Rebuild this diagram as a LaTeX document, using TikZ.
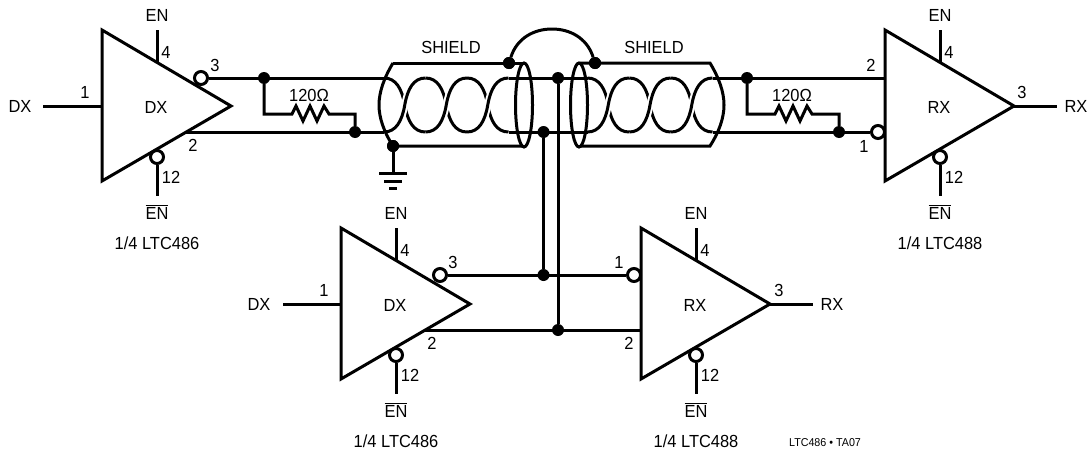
\documentclass[tikz,border=0pt]{standalone}
\usepackage{fontspec}
\setmainfont[FakeStretch=0.94]{Liberation Sans}
\tikzset{
  wire/.style={line width=3pt},
  bubble/.style={circle,draw,fill=white,line width=3pt,minimum size=13pt,inner sep=0pt},
  dot/.style={circle,fill=black,minimum size=12pt,inner sep=0pt},
  every node/.style={inner sep=0pt,font=\fontsize{17.5}{19}\selectfont}
}
\newcommand{\gatebody}[5]{
  \begin{scope}[shift={(#2,#3)}]
    \coordinate (#1-nw) at (102,30);
    \coordinate (#1-sw) at (102,181);
    \coordinate (#1-tip) at (231,106);
    \coordinate (#1-ena) at (157,30);
    \coordinate (#1-enb) at (157,62);
    \coordinate (#1-enc) at (157,196);
    \draw [wire] (#1-nw) -- (#1-tip) -- (#1-sw) -- cycle;
    \draw [wire] (#1-ena) -- (#1-enb);
    \node [bubble] (#1-enbar) at (157,157) {};
    \draw [wire] (#1-enbar) -- (#1-enc);
    \node at (156,107) { #4 };
    \node at (157,15) { EN };
    \node at (166,52) { 4 };
    \node at (171,177) { 12 };
    \node at (157,212) { $\overline{\hbox{EN}}$ };
    \node at (157,243) { #5 };
  \end{scope}
}

\begin{document}
\begin{tikzpicture}[x=1pt,y=-1pt]
  \useasboundingbox (0,0) rectangle (1091,450);

  \gatebody{dxa}{0}{0}{DX}{1/4 LTC486}
  \gatebody{dxb}{239}{198}{DX}{1/4 LTC486}
  \gatebody{rxa}{783}{0}{RX}{1/4 LTC488}
  \gatebody{rxb}{539}{198}{RX}{1/4 LTC488}

  % twisted pair, falling strands first
  \foreach \xa in {384,425.5,467,587.5,629.25,671} {
    \draw [wire] (\xa,78) .. controls ({\xa+12},78) and ({\xa+18},89) .. ({\xa+20.75},105)
      .. controls ({\xa+23.5},121) and ({\xa+29.5},132) .. ({\xa+41.5},132);
  }
  \foreach \xa in {384,425.5,467,587.5,629.25,671} {
    \begin{scope}
      \clip ({\xa+13.75},94) rectangle ({\xa+27.75},116);
      \draw [white,line width=7pt] (\xa,132) .. controls ({\xa+12},132) and ({\xa+18},121) .. ({\xa+20.75},105)
        .. controls ({\xa+23.5},89) and ({\xa+29.5},78) .. ({\xa+41.5},78);
    \end{scope}
    \draw [wire] (\xa,132) .. controls ({\xa+12},132) and ({\xa+18},121) .. ({\xa+20.75},105)
      .. controls ({\xa+23.5},89) and ({\xa+29.5},78) .. ({\xa+41.5},78);
  }

  % junctions
  \node [dot] (ja) at (264,78) {};
  \node [dot] (jb) at (355,132) {};
  \node [dot] (jc) at (393,146) {};
  \node [dot] (jd) at (509,63) {};
  \node [dot] (je) at (595,63) {};
  \node [dot] (jf) at (558,78) {};
  \node [dot] (jg) at (543.5,132) {};
  \node [dot] (jh) at (747,78) {};
  \node [dot] (ji) at (839,132) {};
  \node [dot] (jj) at (543.5,275) {};
  \node [dot] (jk) at (558,330) {};

  % pins of the upper left driver
  \coordinate (dxain) at (43,106);
  \coordinate (dxaleft) at (102,106);
  \node [bubble] (dxaout) at (201,78) {};
  \coordinate (dxaneg) at (185,132);
  \draw [wire] (dxain) -- (dxaleft);
  \node at (20,106) { DX };
  \node at (85,92) { 1 };
  \node at (215,65) { 3 };
  \node at (193,145) { 2 };

  % pins of the lower left driver
  \coordinate (dxbin) at (283,304);
  \coordinate (dxbleft) at (341,304);
  \node [bubble] (dxbout) at (440,275) {};
  \coordinate (dxbneg) at (424,330);
  \draw [wire] (dxbin) -- (dxbleft);
  \node at (259,304) { DX };
  \node at (324,290) { 1 };
  \node at (453,262) { 3 };
  \node at (432,343) { 2 };

  % pins of the upper right receiver
  \coordinate (rxapos) at (885,78);
  \node [bubble] (rxaneg) at (878,132) {};
  \coordinate (rxaright) at (1014,106);
  \coordinate (rxaout) at (1057,106);
  \draw [wire] (rxaright) -- (rxaout);
  \node at (1076,106) { RX };
  \node at (1022,92) { 3 };
  \node at (871,65) { 2 };
  \node at (864,146) { 1 };

  % pins of the lower right receiver
  \node [bubble] (rxbneg) at (634,275) {};
  \coordinate (rxbpos) at (641,330);
  \coordinate (rxbright) at (770,304);
  \coordinate (rxbout) at (813,304);
  \draw [wire] (rxbright) -- (rxbout);
  \node at (832,304) { RX };
  \node at (779,290) { 3 };
  \node at (619,262) { 1 };
  \node at (629,343) { 2 };

  % straight parts of the pair
  \draw [wire] (dxaout) -- (384,78);
  \draw [wire] (dxaneg) -- (384,132);
  \draw [wire] (508.5,78) -- (587.5,78) (508.5,132) -- (587.5,132);
  \draw [wire] (712.5,78) -- (rxapos);
  \draw [wire] (712.5,132) -- (rxaneg);

  % shields
  \draw [wire] (393,63) .. controls (384,78) and (379,92) .. (379,105) .. controls (379,118) and (384,132) .. (393,146) -- (523,146);
  \draw [wire] (393,63) -- (523,63);
  \draw [wire] (524,105) ellipse [x radius=8.5, y radius=42];
  \draw [wire] (579,105) ellipse [x radius=8.5, y radius=42];
  \draw [wire] (580,63) -- (710,63) .. controls (719,78) and (724,92) .. (724,105) .. controls (724,118) and (719,132) .. (710,146) -- (580,146);
  \node at (451,47) { SHIELD };
  \node at (654,47) { SHIELD };
  \draw [wire] (jd) .. controls (517,38) and (534,29) .. (552,29) .. controls (570,29) and (587,38) .. (je);
  \node [dot] at (jd) {};
  \node [dot] at (je) {};
  \node [dot] at (jc) {};

  % ground
  \coordinate (gnd) at (393,173);
  \draw [wire] (jc) -- (gnd);
  \draw [wire] (379,173) -- (407,173);
  \draw [wire] (384,181) -- (402,181);
  \draw [wire] (389,188) -- (397,188);

  % terminations
  \draw [wire] (ja) -- (264,114) -- (292,114) -- ++(4,-8) -- ++(7,15) -- ++(7,-15) -- ++(7,15) -- ++(7,-15) -- ++(5,8) -- (355,114) -- (jb);
  \draw [wire] (jh) -- (747,114) -- (775,114) -- ++(4,-8) -- ++(7,15) -- ++(7,-15) -- ++(7,15) -- ++(7,-15) -- ++(5,8) -- (839,114) -- (ji);
  \node at (309,95) { 120Ω };
  \node at (792,95) { 120Ω };

  % branch to the lower pair
  \draw [wire] (jf) -- (jk);
  \draw [wire] (jg) -- (jj);
  \draw [wire] (dxbout) -- (rxbneg);
  \draw [wire] (dxbneg) -- (rxbpos);

  \node [font=\fontsize{11.4}{13}\selectfont] at (825,443) { LTC486 • TA07 };
\end{tikzpicture}
\end{document}
